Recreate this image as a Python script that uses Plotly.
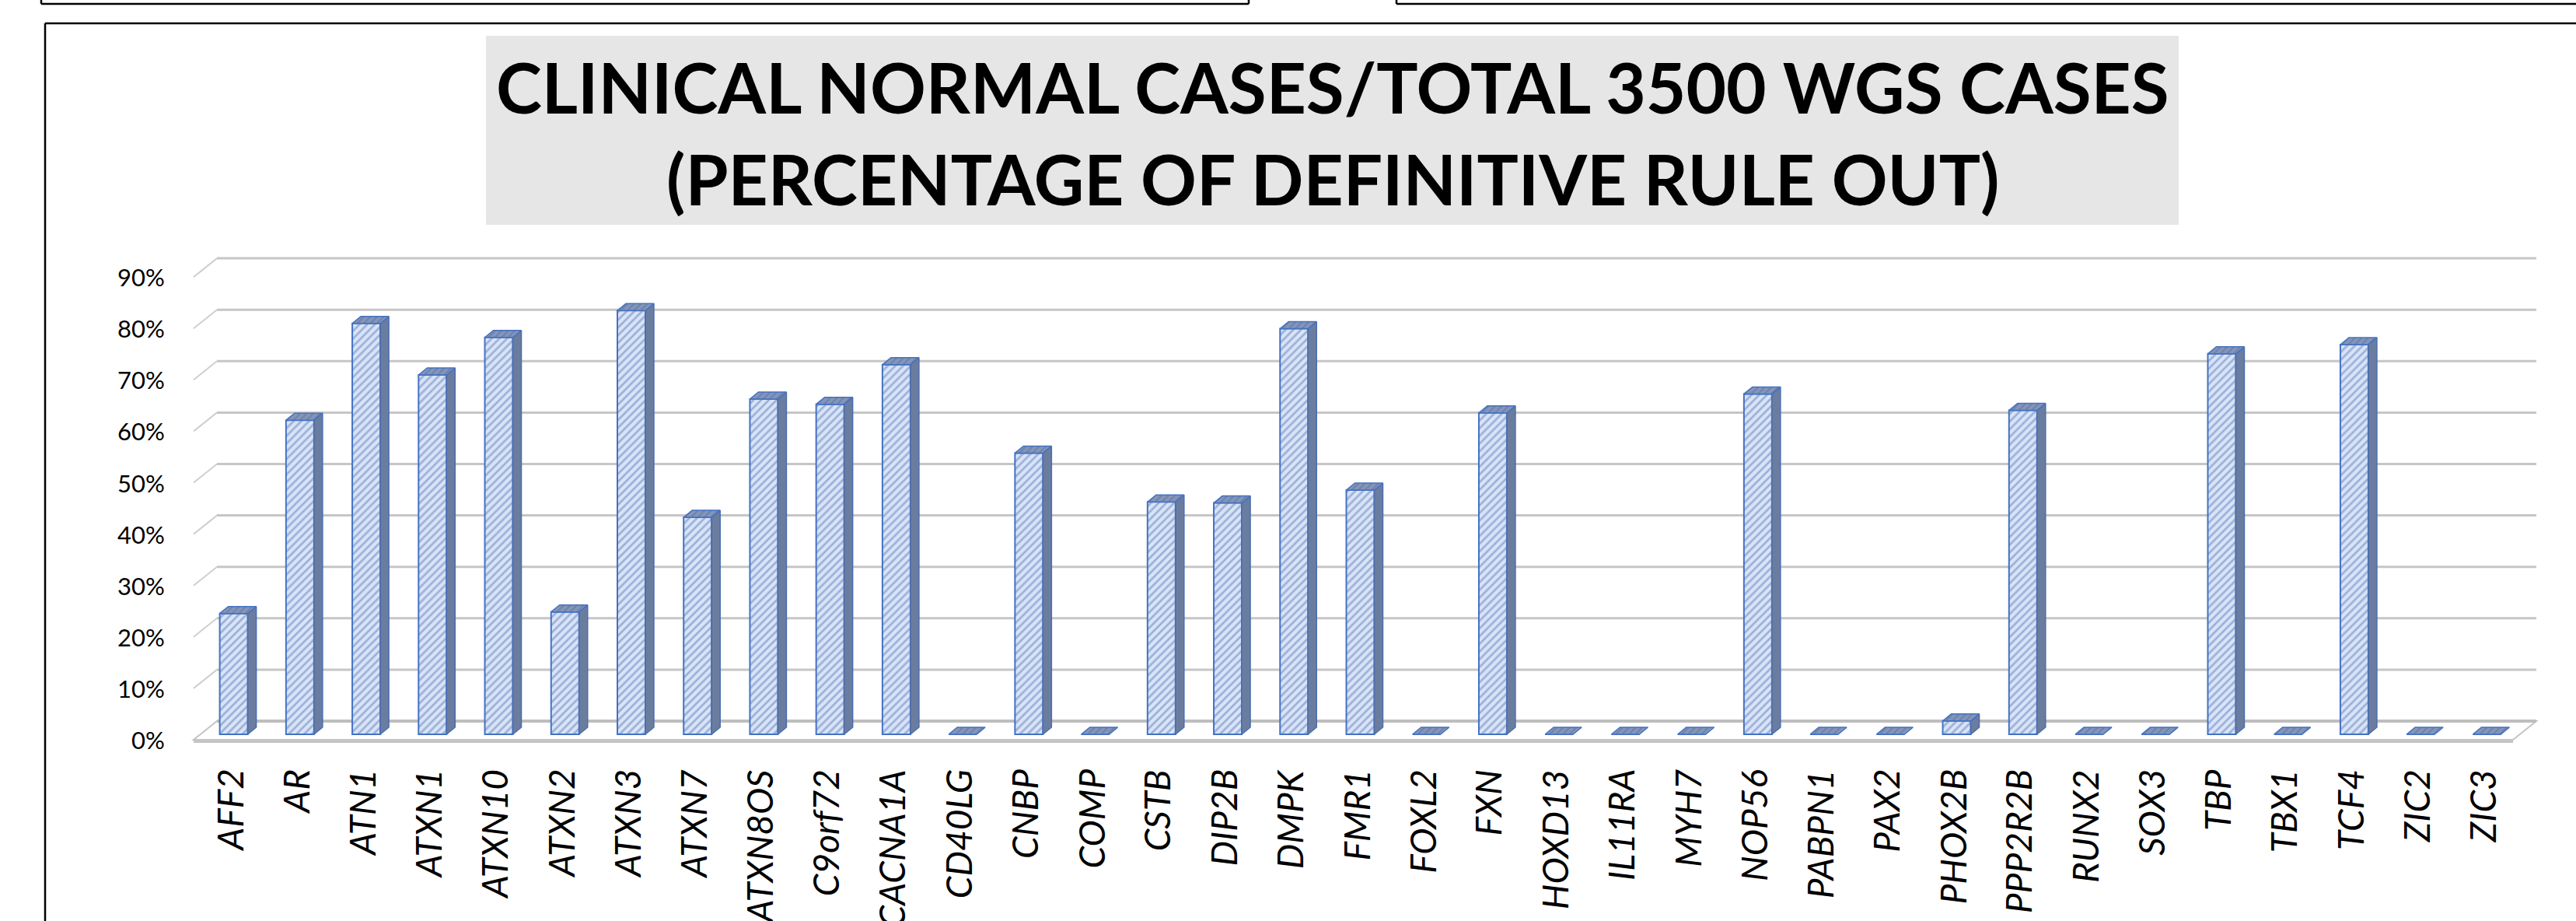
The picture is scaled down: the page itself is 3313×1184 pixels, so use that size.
import plotly.graph_objects as go

W, H = 3313, 1184

# ---------------- data ----------------
genes = ["AFF2", "AR", "ATN1", "ATXN1", "ATXN10", "ATXN2", "ATXN3", "ATXN7", "ATXN8OS",
         "C9orf72", "CACNA1A", "CD40LG", "CNBP", "COMP", "CSTB", "DIP2B", "DMPK", "FMR1",
         "FOXL2", "FXN", "HOXD13", "IL11RA", "MYH7", "NOP56", "PABPN1", "PAX2", "PHOX2B",
         "PPP2R2B", "RUNX2", "SOX3", "TBP", "TBX1", "TCF4", "ZIC2", "ZIC3"]
pct_rule_out = [0.235, 0.611, 0.799, 0.699, 0.772, 0.238, 0.824, 0.422, 0.652,
                0.642, 0.719, 0.0, 0.547, 0.0, 0.452, 0.450, 0.789, 0.475,
                0.0, 0.625, 0.0, 0.0, 0.0, 0.662, 0.0, 0.0, 0.026,
                0.630, 0.0, 0.0, 0.740, 0.0, 0.758, 0.0, 0.0]
ytick_vals = [0.0, 0.1, 0.2, 0.3, 0.4, 0.5, 0.6, 0.7, 0.8, 0.9]
ytick_text = ["0%", "10%", "20%", "30%", "40%", "50%", "60%", "70%", "80%", "90%"]
title_lines = ["CLINICAL NORMAL CASES/TOTAL 3500 WGS CASES",
               "(PERCENTAGE OF DEFINITIVE RULE OUT)"]

# ---------------- geometry (pixels) ----------------
N = len(genes)
AX_L, AX_R = 258.0, 3241.0          # bar-plane pixel extent of category range [-0.5, N-0.5]
PXU = (AX_R - AX_L) / N              # pixels per category unit
Y0_PX = 944.0                        # pixel of value 0 on bar plane
PYU = 661.0                          # pixels per 1.0 (100%)

XR = (-0.75, N - 0.5 + 0.45)
YR = (-0.03, 0.95)


def fx(px):
    return px / W


def fy(py):
    return 1 - py / H


x_dom = [fx(AX_L + (XR[0] + 0.5) * PXU), fx(AX_L + (XR[1] + 0.5) * PXU)]
y_dom = [fy(Y0_PX - YR[0] * PYU), fy(Y0_PX - YR[1] * PYU)]

# depth offsets (data units)
dxb, dyb = 21 / PXU, 17 / PYU       # bar plane -> back wall
dxf, dyf = -9 / PXU, -7 / PYU       # bar plane -> front edge of floor
ddx, ddy = 11 / PXU, 9 / PYU        # bar depth
bw = 36 / PXU                        # bar front width

xs = list(range(N))

fig = go.Figure()

# front faces
fig.add_trace(go.Bar(
    x=xs, y=pct_rule_out, width=bw,
    marker=dict(color="#D9E4F6",
                line=dict(color="#4472C4", width=2),
                pattern=dict(shape="/", fgcolor="#5F7EC0", size=7, solidity=0.4,
                             fillmode="overlay")),
    hoverinfo="skip", showlegend=False))

# side faces
sx, sy = [], []
for x, v in zip(xs, pct_rule_out):
    if v <= 0:
        continue
    r = x + bw / 2
    sx += [r, r + ddx, r + ddx, r, r, None]
    sy += [0, ddy, v + ddy, v, 0, None]
fig.add_trace(go.Scatter(x=sx, y=sy, mode="lines", fill="toself",
                         fillcolor="#6B7D9F", line=dict(color="#4A6DB0", width=1.5),
                         hoverinfo="skip", showlegend=False))

# top faces
tx, ty = [], []
for x, v in zip(xs, pct_rule_out):
    l, r = x - bw / 2, x + bw / 2
    tx += [l, r, r + ddx, l + ddx, l, None]
    ty += [v, v, v + ddy, v + ddy, v, None]
fig.add_trace(go.Scatter(x=tx, y=ty, mode="lines", fill="toself",
                         fillcolor="#8395BA",
                         fillpattern=dict(shape="/", fgcolor="#53688F", size=6, solidity=0.3,
                                          fillmode="overlay"),
                         line=dict(color="#4472C4", width=1.5),
                         hoverinfo="skip", showlegend=False))

shapes = []
# back-wall gridlines + left diagonals
xl_back, xr_back = -0.5 + dxb, N - 0.5 + dxb
xl_front = -0.5 + dxf
for v in ytick_vals[1:]:
    shapes.append(dict(type="line", xref="x", yref="y", layer="below",
                       x0=xl_back, x1=xr_back, y0=v + dyb, y1=v + dyb,
                       line=dict(color="#C6C6C6", width=3)))
    shapes.append(dict(type="line", xref="x", yref="y", layer="below",
                       x0=xl_back, x1=xl_front, y0=v + dyb, y1=v + dyf,
                       line=dict(color="#CFCFCF", width=2)))
# floor
xr_front = N - 0.5 + dxf
shapes.append(dict(type="path", xref="x", yref="y", layer="below",
                   path=f"M {xl_back},{dyb} L {xr_back},{dyb} L {xr_front},{dyf} L {xl_front},{dyf} Z",
                   fillcolor="white", line=dict(color="#C4C4C4", width=2)))
shapes.append(dict(type="line", xref="x", yref="y", layer="below",
                   x0=xl_back, x1=xr_back, y0=dyb, y1=dyb,
                   line=dict(color="#BEBEBE", width=4)))
shapes.append(dict(type="line", xref="x", yref="y", layer="below",
                   x0=xl_front, x1=xr_front, y0=dyf - 1.5 / PYU, y1=dyf - 1.5 / PYU,
                   line=dict(color="#C4C4C4", width=5)))

# chart frame and neighbouring chart boxes (paper coords)
blk = dict(color="black", width=2.5)
shapes += [
    dict(type="line", xref="paper", yref="paper", x0=fx(58), x1=fx(58), y0=fy(30), y1=fy(H + 10), line=blk),
    dict(type="line", xref="paper", yref="paper", x0=fx(58), x1=fx(W + 10), y0=fy(30), y1=fy(30), line=blk),
    dict(type="line", xref="paper", yref="paper", x0=fx(53), x1=fx(1606), y0=fy(5), y1=fy(5), line=blk),
    dict(type="line", xref="paper", yref="paper", x0=fx(53), x1=fx(53), y0=fy(-5), y1=fy(5), line=blk),
    dict(type="line", xref="paper", yref="paper", x0=fx(1606), x1=fx(1606), y0=fy(-5), y1=fy(5), line=blk),
    dict(type="line", xref="paper", yref="paper", x0=fx(1796), x1=fx(W + 10), y0=fy(5), y1=fy(5), line=blk),
    dict(type="line", xref="paper", yref="paper", x0=fx(1796), x1=fx(1796), y0=fy(-5), y1=fy(5), line=blk),
    # title background
    dict(type="rect", xref="paper", yref="paper", x0=fx(625), x1=fx(2802), y0=fy(289), y1=fy(46),
         fillcolor="#E6E6E6", line=dict(width=0), layer="below"),
]

annotations = []
# title
for txt, cy in zip(title_lines, [111, 229]):
    annotations.append(dict(xref="paper", yref="paper", x=fx(1714), y=fy(cy),
                            text=f"<b>{txt}</b>", showarrow=False,
                            xanchor="center", yanchor="middle",
                            font=dict(family="Lato", size=89, color="black")))
# y tick labels (front plane)
for v, t in zip(ytick_vals, ytick_text):
    annotations.append(dict(xref="paper", yref="y", x=fx(214), y=v, yshift=-7,
                            text=t, showarrow=False, xanchor="right", yanchor="middle",
                            font=dict(family="Lato", size=31, color="black")))
# category labels
for x, g in zip(xs, genes):
    annotations.append(dict(xref="x", yref="paper", x=x - 0.07, y=fy(987),
                            text=f"<i>{g}</i>", showarrow=False, textangle=-90,
                            xanchor="center", yanchor="top",
                            font=dict(family="Lato", size=46, color="black")))

fig.update_layout(
    width=W, height=H,
    margin=dict(l=0, r=0, t=0, b=0),
    paper_bgcolor="white", plot_bgcolor="rgba(0,0,0,0)",
    xaxis=dict(domain=x_dom, range=list(XR), visible=False, fixedrange=True),
    yaxis=dict(domain=y_dom, range=list(YR), visible=False, fixedrange=True),
    shapes=shapes, annotations=annotations, showlegend=False, bargap=0,
)

fig.write_html("out.html",
               config={"displayModeBar": False, "staticPlot": True},
               post_script="document.body.style.margin='0';document.body.style.overflow='hidden';")
